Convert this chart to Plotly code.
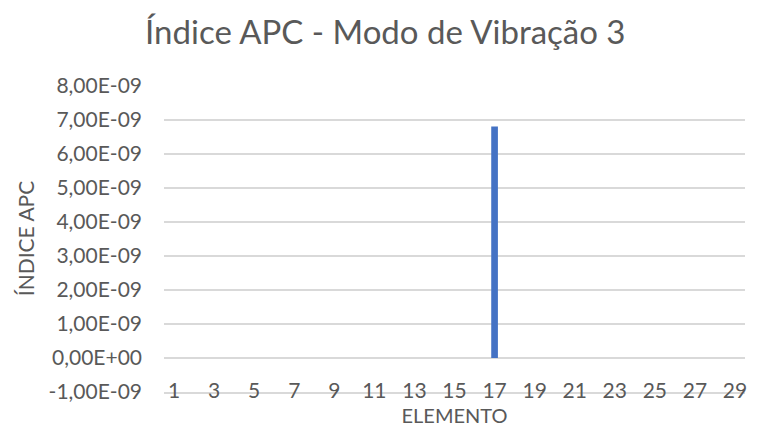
import plotly.graph_objects as go

# Elements of the structure and their APC index for vibration mode 3
elementos = [str(i) for i in range(1, 30)]
indice_apc = [0.0] * 29
indice_apc[16] = 6.8e-09  # element 17

# Axis tick values and their labels (comma decimal, scientific notation)
y_ticks = [-1e-09, 0.0, 1e-09, 2e-09, 3e-09, 4e-09, 5e-09, 6e-09, 7e-09, 8e-09]
y_labels = ["-1,00E-09", "0,00E+00", "1,00E-09", "2,00E-09", "3,00E-09",
            "4,00E-09", "5,00E-09", "6,00E-09", "7,00E-09", "8,00E-09"]
x_ticks = elementos[::2]

FONT = "Lato"
GREY = "#595959"

fig = go.Figure(
    go.Bar(
        x=elementos,
        y=indice_apc,
        marker=dict(color="#4472C4", line=dict(width=0)),
        width=1 / 3,
    )
)

fig.update_layout(
    width=757,
    height=429,
    margin=dict(l=164, r=12, t=85, b=37),
    paper_bgcolor="white",
    plot_bgcolor="white",
    showlegend=False,
    font=dict(family=FONT, color=GREY),
    title=dict(
        text="Índice APC - Modo de Vibração 3",
        x=0.509,
        xanchor="center",
        y=0.925,
        yanchor="middle",
        font=dict(family=FONT, size=33, color=GREY),
    ),
)

fig.update_xaxes(
    type="category",
    automargin=False,
    tickvals=x_ticks,
    ticktext=x_ticks,
    tickfont=dict(size=21, color=GREY),
    ticklabelstandoff=-21,
    showgrid=False,
    showline=True,
    linecolor="#d9d9d9",
    linewidth=1.5,
    ticks="",
    title=dict(text="ELEMENTO", font=dict(size=20, color=GREY), standoff=8),
)

fig.update_yaxes(
    automargin=False,
    range=[-1.0e-09, 8.02e-09],
    tickvals=y_ticks,
    ticktext=y_labels,
    tickfont=dict(size=21, color=GREY),
    showgrid=True,
    gridcolor="#d9d9d9",
    gridwidth=1.5,
    zeroline=False,
    showline=False,
    ticks="",
    ticklabelstandoff=21,
    title=dict(text="ÍNDICE APC", font=dict(size=21, color=GREY), standoff=8),
)

fig.write_html("out.html")
